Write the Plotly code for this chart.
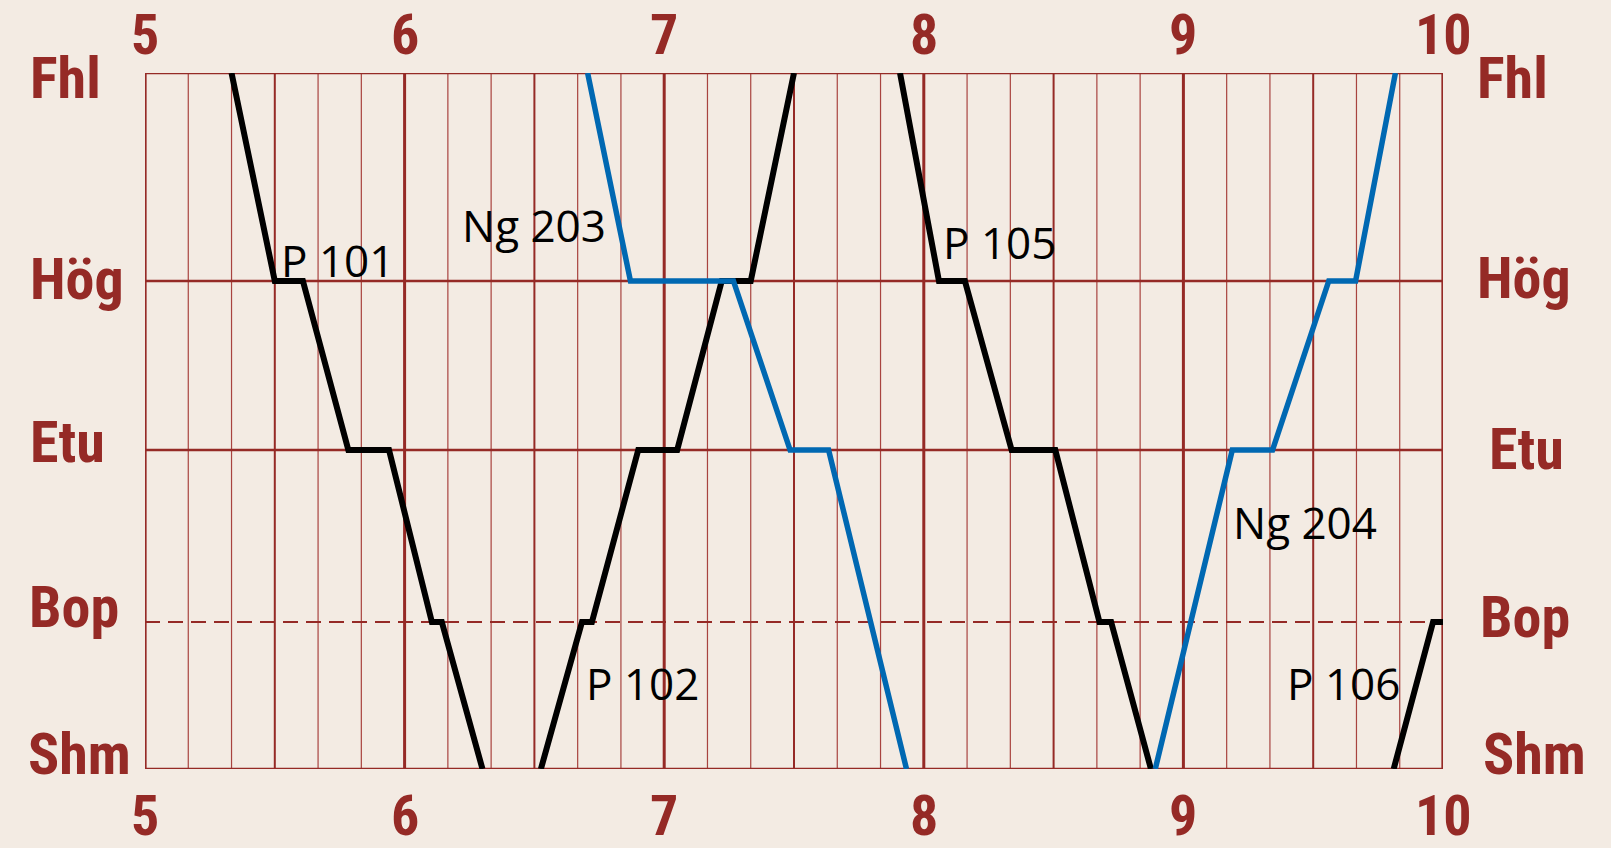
import plotly.graph_objects as go

# ---------------- data ----------------
stations = ["Shm", "Bop", "Etu", "Hög", "Fhl"]
station_km = [0.0, 14.7, 31.9, 48.8, 69.6]
hour_labels = [5, 6, 7, 8, 9, 10]

p101_stops = ["Fhl", "Hög", "Hög", "Etu", "Etu", "Bop", "Bop", "Shm"]
p101_times = ["5:20", "5:30", "5:36.5", "5:47", "5:56.4", "6:06.3", "6:08.6", "6:18"]

p102_stops = ["Shm", "Bop", "Bop", "Etu", "Etu", "Hög", "Hög", "Fhl"]
p102_times = ["6:31.5", "6:41", "6:43.3", "6:54", "7:03", "7:13.3", "7:20", "7:30"]

ng203_stops = ["Fhl", "Hög", "Hög", "Etu", "Etu", "Shm"]
ng203_times = ["6:42.3", "6:52.2", "7:16", "7:29.1", "7:38", "7:56"]

p105_stops = ["Fhl", "Hög", "Hög", "Etu", "Etu", "Bop", "Bop", "Shm"]
p105_times = ["7:54.5", "8:03.5", "8:09.5", "8:20.3", "8:30.4", "8:40.6", "8:43.3", "8:52.5"]

ng204_stops = ["Shm", "Etu", "Etu", "Hög", "Hög", "Fhl"]
ng204_times = ["8:53.5", "9:11.3", "9:20.6", "9:33.6", "9:39.8", "9:49"]

p106_stops = ["Shm", "Bop", "Bop"]
p106_times = ["9:48.6", "9:57.7", "10:00"]

train_names = ["P 101", "P 102", "Ng 203", "P 105", "Ng 204", "P 106"]
label_times = ["5:44.4", "6:55", "6:30", "8:17.5", "9:28", "9:37"]
label_km = [50.95, 8.6, 54.4, 52.75, 24.75, 8.6]

# ---------------- styles ----------------
BG = "#f3ebe3"
RED = "#952a26"
BLACK = "#000000"
BLUE = "#0068b2"
BOLD_FONT = "Liberation Sans Narrow, Roboto Condensed, DejaVu Sans Condensed, Liberation Sans, sans-serif"
TEXT_FONT = "Open Sans, Noto Sans, sans-serif"

km_of = dict(zip(stations, station_km))


def to_hours(s):
    h, m = s.split(":")
    return int(h) + float(m) / 60.0


fig = go.Figure()

trains = [
    (p101_stops, p101_times, BLACK, 6),
    (p102_stops, p102_times, BLACK, 6),
    (ng203_stops, ng203_times, BLUE, 5.5),
    (p105_stops, p105_times, BLACK, 6),
    (ng204_stops, ng204_times, BLUE, 5.5),
    (p106_stops, p106_times, BLACK, 6),
]
for stops, times, col, w in trains:
    fig.add_trace(go.Scatter(
        x=[to_hours(t) for t in times],
        y=[km_of[s] for s in stops],
        mode="lines",
        line=dict(color=col, width=w),
        hoverinfo="skip",
        showlegend=False,
    ))

shapes = []
t0, t1 = hour_labels[0], hour_labels[-1]
ymin, ymax = station_km[0], station_km[-1]
# vertical grid every 10 minutes
for k in range(0, (t1 - t0) * 6 + 1):
    t = t0 + k / 6.0
    if k % 6 == 0:
        w, c = 3, RED
    elif k % 3 == 0:
        w, c = 2, RED
    else:
        w, c = 1.2, "#a8433f"
    shapes.append(dict(type="line", xref="x", yref="y", x0=t, x1=t, y0=ymin, y1=ymax,
                       line=dict(color=c, width=w), layer="below"))
# horizontal station lines
for s, km in zip(stations, station_km):
    if s in ("Shm", "Fhl"):
        continue
    if s == "Bop":
        shapes.append(dict(type="line", xref="x", yref="y", x0=t0, x1=t1, y0=km, y1=km,
                           line=dict(color=RED, width=2, dash="15px,8px"), layer="below"))
    else:
        shapes.append(dict(type="line", xref="x", yref="y", x0=t0, x1=t1, y0=km, y1=km,
                           line=dict(color=RED, width=2.5), layer="below"))
# border
shapes.append(dict(type="rect", xref="x", yref="y", x0=t0, x1=t1, y0=ymin, y1=ymax,
                   line=dict(color=RED, width=2.5), layer="below"))

annotations = []
# hour labels top and bottom
for h in hour_labels:
    for yy, ys in ((1, 37.7), (0, -47)):
        annotations.append(dict(x=h, xref="x", y=yy, yref="paper", text=str(h),
                                showarrow=False, xanchor="center", yanchor="middle",
                                yshift=ys,
                                font=dict(family=BOLD_FONT, size=56, color=RED, weight="bold")))
# station labels
left_shift = {"Fhl": -4.8, "Hög": 2.5, "Etu": 8.5, "Bop": 15.5, "Shm": 15}
right_shift = {"Fhl": -4.8, "Hög": 3, "Etu": 1, "Bop": 5.5, "Shm": 15.5}
right_x = {"Fhl": 32, "Hög": 32, "Etu": 44, "Bop": 35, "Shm": 38}
left_x = {"Fhl": -117, "Hög": -117, "Etu": -117, "Bop": -118, "Shm": -119}
for s, km in zip(stations, station_km):
    annotations.append(dict(x=0, xref="paper", y=km, yref="y", text=s, showarrow=False,
                            xanchor="left", yanchor="middle", xshift=left_x[s], yshift=left_shift[s],
                            font=dict(family=BOLD_FONT, size=58, color=RED, weight="bold")))
    annotations.append(dict(x=1, xref="paper", y=km, yref="y", text=s, showarrow=False,
                            xanchor="left", yanchor="middle", xshift=right_x[s], yshift=right_shift[s],
                            font=dict(family=BOLD_FONT, size=58, color=RED, weight="bold")))
# train labels
for name, lt, lk in zip(train_names, label_times, label_km):
    annotations.append(dict(x=to_hours(lt), xref="x", y=lk, yref="y", text=name,
                            showarrow=False, xanchor="center", yanchor="middle",
                            font=dict(family=TEXT_FONT, size=44, color=BLACK)))

fig.update_layout(
    width=1611, height=848,
    margin=dict(l=145, r=168, t=73, b=79),
    paper_bgcolor=BG, plot_bgcolor=BG,
    shapes=shapes, annotations=annotations,
    xaxis=dict(range=[t0, t1], showgrid=False, zeroline=False, showticklabels=False,
               ticks="", fixedrange=True),
    yaxis=dict(range=[ymin, ymax], showgrid=False, zeroline=False, showticklabels=False,
               ticks="", fixedrange=True),
)

fig.write_html("out.html", config={"displayModeBar": False},
               post_script="document.body.style.margin='0';document.body.style.overflow='hidden';")
